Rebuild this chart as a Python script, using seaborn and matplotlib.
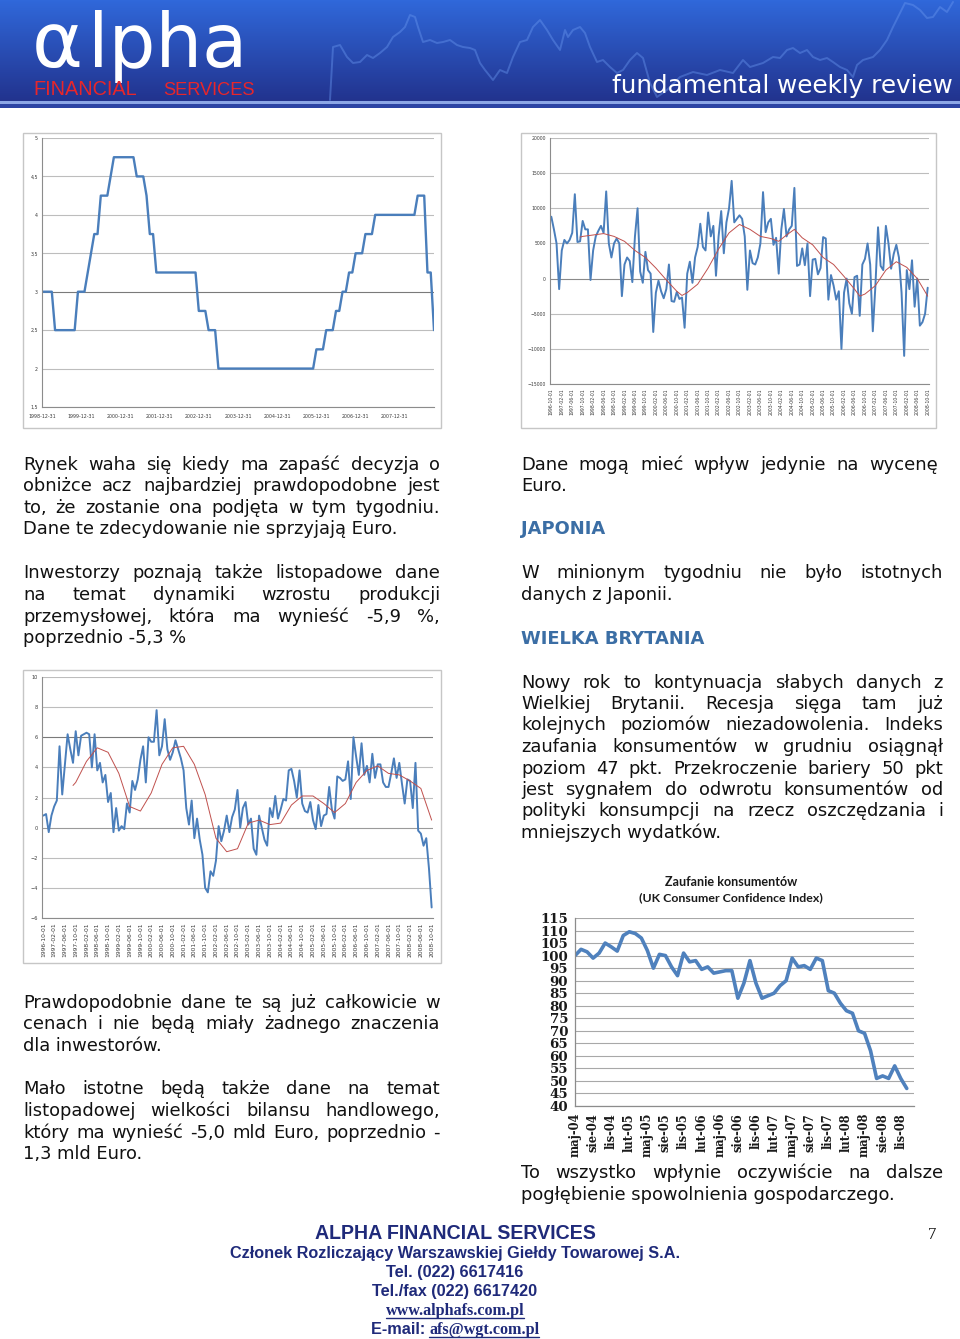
import numpy as np
import pandas as pd
import matplotlib
matplotlib.use("Agg")
import matplotlib.pyplot as plt
import seaborn as sns
from matplotlib.patches import Rectangle
from matplotlib.lines import Line2D
from matplotlib.transforms import Affine2D

# ------------------------------------------------------------------ data
# Chart 1: ECB rate, monthly from 1998-12 to 2008-12
ecb_rate = (
    [3.0]
    + [3.0, 3.0, 3.0, 2.5, 2.5, 2.5, 2.5, 2.5, 2.5, 2.5, 3.0, 3.0]            # 1999
    + [3.0, 3.25, 3.5, 3.75, 3.75, 4.25, 4.25, 4.25, 4.5, 4.75, 4.75, 4.75]   # 2000
    + [4.75, 4.75, 4.75, 4.75, 4.5, 4.5, 4.5, 4.25, 3.75, 3.75, 3.25, 3.25]   # 2001
    + [3.25, 3.25, 3.25, 3.25, 3.25, 3.25, 3.25, 3.25, 3.25, 3.25, 3.25, 2.75]  # 2002
    + [2.75, 2.75, 2.5, 2.5, 2.5, 2.0, 2.0, 2.0, 2.0, 2.0, 2.0, 2.0]          # 2003
    + [2.0, 2.0, 2.0, 2.0, 2.0, 2.0, 2.0, 2.0, 2.0, 2.0, 2.0, 2.0]            # 2004
    + [2.0, 2.0, 2.0, 2.0, 2.0, 2.0, 2.0, 2.0, 2.0, 2.0, 2.0, 2.25]           # 2005
    + [2.25, 2.25, 2.5, 2.5, 2.5, 2.75, 2.75, 3.0, 3.0, 3.25, 3.25, 3.5]      # 2006
    + [3.5, 3.5, 3.75, 3.75, 3.75, 4.0, 4.0, 4.0, 4.0, 4.0, 4.0, 4.0]         # 2007
    + [4.0, 4.0, 4.0, 4.0, 4.0, 4.0, 4.25, 4.25, 4.25, 3.25, 3.25, 2.5]       # 2008
)
ecb_xlabels = ["1998-12-31", "1999-12-31", "2000-12-31", "2001-12-31", "2002-12-31",
               "2003-12-31", "2004-12-31", "2005-12-31", "2006-12-31", "2007-12-31"]
ecb_yticks = [1.5, 2.0, 2.5, 3.0, 3.5, 4.0, 4.5, 5.0]

# Charts 2 and 3: monthly 1996-10 .. 2008-10
month_labels = ["1996-10-01", "1997-02-01", "1997-06-01", "1997-10-01", "1998-02-01",
                "1998-06-01", "1998-10-01", "1999-02-01", "1999-06-01", "1999-10-01",
                "2000-02-01", "2000-06-01", "2000-10-01", "2001-02-01", "2001-06-01",
                "2001-10-01", "2002-02-01", "2002-06-01", "2002-10-01", "2003-02-01",
                "2003-06-01", "2003-10-01", "2004-02-01", "2004-06-01", "2004-10-01",
                "2005-02-01", "2005-06-01", "2005-10-01", "2006-02-01", "2006-06-01",
                "2006-10-01", "2007-02-01", "2007-06-01", "2007-10-01", "2008-02-01",
                "2008-06-01", "2008-10-01"]

trade_vals = [8800, 7000, 5000, -1500, 4000, 5500, 5000, 5500, 6500, 12000,
              5200, 5300, 8200, 7000, 7000, -200, 4000, 6000, 6800, 7500,
              6500, 12400, 5000, 3000, 5000, 5700, 5000, -2500, 2000, 3000,
              2500, -500, 6000, 10000, 1000, -600, 3800, 1200, 700, -7600,
              -2000, -300, -1800, -2800, -1500, 2000, -3200, -3300, -1900, -2900,
              -2700, -7000, 700, 2400, -600,
              3000, 4500, 7800, 4500, 4000, 9400, 6000, 7500, 400, 6000,
              9600, 3600, 8000, 10000, 13900, 8000, 8500, 9000, 8500, 6000,
              -1600, 4000, 2200, 2000, 3000, 5000, 12300, 6600, 8000, 8500,
              4800, 5800, 700, 7000, 9900, 6000, 7000, 7500, 12900, 1800,
              2000, 4300, 1900, 5000, -2500, 2700, 2800, 600, 1500, 5900,
              5700, -3000, 500, -1000, -3000, -1800, -10000, -2000, 0, -3500,
              -5000, 200, 400, -5300, 2000, 2800, 5000, 2000, -7500, -1000,
              7300, 1800, 1200, 7500, 5000, 1400, 3500, 4800, 3000, -2000,
              -11000, 1200, -1500, 2600, -4000, 0, -6700, -6200, -5000, -1300]
trade_ma_idx = [11, 12, 16, 20, 24, 28, 32, 36, 40, 44, 48, 50, 52, 56, 60, 64, 68, 72,
                76, 80, 84, 87, 90, 93, 96, 100, 104, 108, 112, 116, 118, 120, 124,
                128, 132, 136, 140, 144]
trade_ma_val = [5900, 6000, 6200, 6400, 6000, 5300, 4000, 3000, 1500, -200, -1800, -2400,
                -2000, -800, 1500, 4200, 6500, 7700, 7000, 6000, 5700, 5300, 6200, 7000,
                5800, 4800, 3000, 2000, 300, -1500, -2500, -2200, -1000, 1200, 2400, 1600,
                0, -2500]

prod_vals = [0.8, 0.9, -0.3, 0.8, 1.4, 1.8, 5.4, 2.2, 4.2, 6.2,
             5.2, 4.3, 6.4, 4.8, 6.1, 6.2, 6.3, 6.2, 4.0, 6.2,
             3.8, 4.3, 3.0, 3.5, 1.7, 2.3, -0.3, 1.3, -0.2, 0.1,
             -0.1, 1.6, 1.0, 3.1, 2.5, 3.2, 4.5, 5.4, 3.0, 6.0,
             5.7, 5.7, 7.8, 4.8, 5.4, 7.2, 5.2, 4.5, 5.0, 5.8,
             5.2, 4.6, 3.8, 1.3, 0.2, 1.8, -0.7, 0.6, -0.8, -1.8,
             -4.0, -4.3, -2.9, -3.2, -2.2, 0.1, -0.9, -0.2, 0.8, -0.3,
             0.7, 1.2, 2.5, 0.0, 1.3, 1.7, 0.2, 0.6, -1.4, -1.8,
             0.8, 0.0, -0.8, -1.2, 1.3, 0.7, 2.1, 0.6, 1.2, 1.9,
             1.8, 3.8, 3.9, 3.1, 2.0, 3.8, 1.6, 1.1, 1.0, 1.7,
             0.5, -0.1, 1.5, 0.1, 0.8, 0.9, 2.7, 1.2, 0.6, 3.4,
             3.3, 3.1, 3.2, 4.4, 1.9, 6.0, 4.7, 3.5, 5.6, 3.5,
             4.1, 3.0, 4.9, 3.3, 4.2, 4.2, 3.0, 2.7, 2.7, 3.6,
             4.6, 3.3, 4.3, 2.9, 1.6, 3.2, 3.1, 1.3, 4.3, -0.2,
             -0.4, -1.2, -0.7, -2.7, -5.3]
prod_ma_idx = [11, 12, 16, 20, 24, 28, 32, 36, 40, 44, 48, 52, 56, 60, 64, 68, 72, 76,
               80, 84, 88, 92, 96, 100, 104, 108, 112, 116, 120, 124, 128, 132, 136, 140, 144]
prod_ma_val = [2.8, 3.0, 4.4, 5.3, 5.0, 3.6, 1.4, 1.1, 2.3, 4.2, 5.3, 5.4, 4.2, 2.2, -0.7,
               -1.6, -1.4, 0.3, 0.5, 0.2, 0.3, 1.5, 2.1, 2.1, 1.6, 1.0, 1.6, 3.0, 3.8,
               4.1, 3.6, 3.5, 3.1, 2.6, 0.5]

# Chart 4: UK consumer confidence, monthly maj-04 .. gru-08
cc_vals = [100, 102.5, 101.5, 99, 101, 105, 103.5, 101.8, 108, 109.5,
           108.8, 107, 102, 95, 100.5, 100, 95.5, 92, 101, 97.5,
           98, 94.5, 95.5, 93, 93.5, 94, 94, 83, 89, 98,
           89, 83, 84, 85, 88, 90, 99, 95.5, 96, 94.5,
           99, 98, 86, 85, 81, 78, 77, 70, 69, 62,
           51, 52, 51, 56, 51, 47]
cc_labels = ["maj-04", "sie-04", "lis-04", "lut-05", "maj-05", "sie-05", "lis-05",
             "lut-06", "maj-06", "sie-06", "lis-06", "lut-07", "maj-07", "sie-07",
             "lis-07", "lut-08", "maj-08", "sie-08", "lis-08"]
cc_yticks = [40, 45, 50, 55, 60, 65, 70, 75, 80, 85, 90, 95, 100, 105, 110, 115]

# decorative price line in the header banner (time step, level)
banner_t = [330, 333, 340, 347, 353, 360, 367, 373, 380, 387, 393, 400, 405, 410, 415,
            418, 423, 430, 437, 443, 450, 457, 463, 470, 475, 480, 485, 493, 500, 507,
            513, 520, 527, 533, 540, 547, 553, 560, 565, 568, 573, 580, 585, 590, 597,
            603, 610, 617, 623, 630, 637, 643, 650, 657, 667, 680, 693, 707, 720, 733,
            743, 750, 763, 773, 780, 787, 793, 800, 807, 813, 820, 827, 833, 840, 847,
            853, 857, 863, 873, 880, 887, 893, 900, 905, 913, 920, 927, 933, 940, 947, 953]
banner_v = [5, 58, 60, 48, 42, 43, 50, 47, 52, 58, 68, 73, 78, 90, 88,
            78, 63, 65, 62, 63, 65, 60, 58, 57, 55, 42, 35, 25, 35, 32,
            48, 63, 65, 78, 85, 75, 65, 55, 75, 68, 75, 78, 72, 58, 43,
            45, 38, 32, 35, 45, 52, 47, 22, 8, 15, 28, 33, 30, 35, 32,
            45, 38, 42, 48, 47, 55, 57, 52, 55, 48, 45, 47, 43, 38, 35,
            28, 40, 45, 48, 55, 65, 78, 92, 102, 100, 95, 87, 88, 98, 93, 103]

# ------------------------------------------------------------------ setup
W, H = 960, 1339
sns.set_theme(style="white")
plt.rcParams['font.family'] = ['DejaVu Sans']
fig = plt.figure(figsize=(W / 100, H / 100), dpi=100)
fig.patch.set_facecolor('white')
PX = Affine2D().scale(1 / W, -1 / H).translate(0, 1) + fig.transFigure
renderer = fig.canvas.get_renderer()


def add_ax(l, t, r, b):
    return fig.add_axes([l / W, 1 - b / H, (r - l) / W, (b - t) / H])


def tw(s, size, **kw):
    t = fig.text(0, 0, s, fontsize=size, **kw)
    w = t.get_window_extent(renderer).width
    t.remove()
    return w


def fit(s, target, **kw):
    return 10 * target / tw(s, 10, **kw)


def put(x, y, s, **kw):
    kw.setdefault('va', 'baseline')
    return fig.text(x, y, s, transform=PX, **kw)


def para(lines, x0, x1, y0, step, size, **kw):
    for j, line in enumerate(lines):
        y = y0 + j * step
        words = line.split(' ')
        if j == len(lines) - 1 or len(words) == 1:
            put(x0, y, line, fontsize=size, **kw)
            continue
        ws = [tw(w, size, **kw) for w in words]
        gap = (x1 - x0 - sum(ws)) / (len(words) - 1)
        x = x0
        for w, wd in zip(words, ws):
            put(x, y, w, fontsize=size, **kw)
            x += wd + gap


def underline(x0, x1, y, color):
    fig.add_artist(Line2D([x0, x1], [y, y], transform=PX, color=color, lw=1))


# ------------------------------------------------------------------ banner
BH = 108
bax = fig.add_axes([0, 1 - BH / H, 1, BH / H])
bax.set_axis_off()
top = np.array([0x30, 0x68, 0xda]) / 255
bot = np.array([0x22, 0x33, 0x8e]) / 255
rows = []
for r in range(BH):
    if r < 101:
        f = r / 100
        rows.append(top * (1 - f) + bot * f)
    elif r < 104:
        rows.append(np.array([0x8c, 0xa6, 0xe6]) / 255)
    else:
        rows.append(np.array([0x2c, 0x44, 0xa4]) / 255)
grad = np.array(rows)[:, None, :]
bax.imshow(grad, aspect='auto', extent=[0, 960, BH, 0])
bax.set_xlim(0, 960)
bax.set_ylim(BH, 0)

lax = add_ax(0, 0, 960, 105)
lax.set_axis_off()
lax.patch.set_alpha(0)
sns.lineplot(x=banner_t, y=banner_v, ax=lax, color='#6a98f0', lw=1.4, alpha=0.42,
             sort=False)
lax.set_xlim(0, 960)
lax.set_ylim(0, 105)

s_lpha = fit('lpha', 160, family='DejaVu Sans')
put(88, 67, 'lpha', fontsize=s_lpha, color='white', family='DejaVu Sans')
s_alpha = fit('α', 56, family='DejaVu Sans')
put(32, 67, 'α', fontsize=min(s_alpha, s_lpha * 1.05), color='white', family='DejaVu Sans')
s_fin = fit('FINANCIAL', 104, family='Liberation Sans')
put(33, 95, 'FINANCIAL', fontsize=s_fin, color='#e8262a', family='Liberation Sans')
s_ser = fit('SERVICES', 92, family='Liberation Sans')
put(163, 95, 'SERVICES', fontsize=s_ser, color='#e8262a', family='Liberation Sans')
s_fwr = fit('fundamental weekly review', 340, family='DejaVu Sans')
put(612, 93, 'fundamental weekly review', fontsize=s_fwr, color='white', family='DejaVu Sans')

# ------------------------------------------------------------------ chart helpers
FRAME = '#c6c6c6'
GRID = '#bdbdbd'
SPINE = '#8c8c8c'
BLUE = '#4a7ebb'
RED = '#c0504d'


def frame(x0, y0, x1, y1):
    fig.add_artist(Rectangle((x0, y0), x1 - x0, y1 - y0, transform=PX,
                             fill=False, ec=FRAME, lw=1))


def small_style(ax, fs):
    for s in ['top', 'right']:
        ax.spines[s].set_visible(False)
    for s in ['left', 'bottom']:
        ax.spines[s].set_color(SPINE)
        ax.spines[s].set_linewidth(0.8)
    ax.grid(False)
    ax.yaxis.grid(True, color=GRID, lw=0.8)
    ax.set_axisbelow(True)
    ax.tick_params(labelsize=fs, colors='#3a3a3a', length=0, pad=3)
    ax.set_xlabel('')
    ax.set_ylabel('')


# ------------------------------------------------------------------ chart 1
frame(23, 133, 441, 428)
ax1 = add_ax(42, 138, 434, 407)
sns.lineplot(x=np.arange(len(ecb_rate)), y=ecb_rate, ax=ax1, color=BLUE, lw=1.7)
ax1.set_xlim(0, len(ecb_rate) - 1)
ax1.set_ylim(1.5, 5.0)
small_style(ax1, 3.4)
ax1.set_yticks(ecb_yticks)
ax1.set_yticklabels([f"{v:g}".replace('.', ',') for v in ecb_yticks])
ax1.set_xticks(np.arange(0, 12 * len(ecb_xlabels), 12))
ax1.set_xticklabels(ecb_xlabels)
ax1.tick_params(axis='x', length=2, color=SPINE, direction='out')
ax1.yaxis.get_major_ticks()[3].gridline.set_color('#7a7a7a')

# ------------------------------------------------------------------ chart 2
frame(521, 133, 936, 428)
ax2 = add_ax(550, 138, 929, 384)
n2 = len(trade_vals)
sns.lineplot(x=np.arange(n2), y=trade_vals, ax=ax2, color=BLUE, lw=1.4)
sns.lineplot(x=trade_ma_idx, y=trade_ma_val, ax=ax2, color=RED, lw=0.7)
ax2.set_xlim(-0.5, n2 - 0.5)
ax2.set_ylim(-15000, 20000)
small_style(ax2, 3.3)
ax2.set_yticks(np.arange(-15000, 20001, 5000))
ax2.set_xticks(np.arange(0, n2, 4))
ax2.set_xticklabels(month_labels, rotation=90, va='top', ha='center')
ax2.yaxis.get_major_ticks()[3].gridline.set_color('#8a8a8a')

# ------------------------------------------------------------------ chart 3
frame(23, 670, 441, 963)
ax3 = add_ax(42, 677, 433, 918)
n3 = len(prod_vals)
sns.lineplot(x=np.arange(n3), y=prod_vals, ax=ax3, color=BLUE, lw=1.4)
sns.lineplot(x=prod_ma_idx, y=prod_ma_val, ax=ax3, color=RED, lw=0.7)
ax3.set_xlim(-0.5, n3 - 0.5)
ax3.set_ylim(-6, 10)
small_style(ax3, 3.6)
ax3.set_yticks(np.arange(-6, 11, 2))
ax3.set_xticks(np.arange(0, n3, 4))
ax3.set_xticklabels(month_labels, rotation=90, va='top', ha='center', fontsize=4.3)
ax3.yaxis.get_major_ticks()[6].gridline.set_color('#7a7a7a')
ax3.yaxis.get_major_ticks()[3].gridline.set_color('#9a9a9a')

# ------------------------------------------------------------------ chart 4
ax4 = add_ax(575, 918, 914, 1106)
sns.lineplot(x=np.arange(len(cc_vals)), y=cc_vals, ax=ax4, color='#4f81bd', lw=2.6)
ax4.set_xlim(0, 56.2)
ax4.set_ylim(40, 115)
for s in ['top', 'right']:
    ax4.spines[s].set_visible(False)
for s in ['left', 'bottom']:
    ax4.spines[s].set_color('#8c8c8c')
    ax4.spines[s].set_linewidth(0.9)
ax4.grid(False)
ax4.yaxis.grid(True, color='#a8a8a8', lw=0.8)
ax4.set_axisbelow(True)
ax4.set_xlabel('')
ax4.set_ylabel('')
ax4.set_yticks(cc_yticks)
ax4.set_yticklabels([str(v) for v in cc_yticks], family='DejaVu Serif',
                    fontweight='bold', fontsize=9.6, color='#1a1a1a')
ax4.set_xticks(np.arange(0, 3 * len(cc_labels), 3))
ax4.set_xticklabels(cc_labels, rotation=90, family='DejaVu Serif', fontweight='bold',
                    fontsize=8.3, color='#1a1a1a', va='top', ha='center')
ax4.tick_params(axis='both', length=3, color='#8c8c8c', direction='out', pad=2)

t_font = ['Lato', 'DejaVu Sans']
s_t1 = fit('Zaufanie konsumentów', 133, family=t_font, fontweight='bold')
put(731, 886, 'Zaufanie konsumentów', fontsize=s_t1, family=t_font,
    fontweight='bold', ha='center', color='#1a1a1a')
s_t2 = fit('(UK Consumer Confidence Index)', 185, family=t_font, fontweight='bold')
put(731, 901, '(UK Consumer Confidence Index)', fontsize=s_t2, family=t_font,
    fontweight='bold', ha='center', color='#1a1a1a')

# ------------------------------------------------------------------ body text
BODY = dict(family='DejaVu Sans', color='#111111')
fs = fit('Dane te zdecydowanie nie sprzyjają Euro.', 374, **BODY)
STEP = 21.6

para(["Rynek waha się kiedy ma zapaść decyzja o",
      "obniżce acz najbardziej prawdopodobne jest",
      "to, że zostanie ona podjęta w tym tygodniu.",
      "Dane te zdecydowanie nie sprzyjają Euro."], 23, 440, 469.5, STEP, fs, **BODY)
para(["Inwestorzy poznają także listopadowe dane",
      "na temat dynamiki wzrostu produkcji",
      "przemysłowej, która ma wynieść -5,9 %,",
      "poprzednio -5,3 %"], 23, 440, 578.5, STEP, fs, **BODY)
para(["Prawdopodobnie dane te są już całkowicie w",
      "cenach i nie będą miały żadnego znaczenia",
      "dla inwestorów."], 23, 440, 1007.5, STEP, fs, **BODY)
para(["Mało istotne będą także dane na temat",
      "listopadowej wielkości bilansu handlowego,",
      "który ma wynieść -5,0 mld Euro, poprzednio -",
      "1,3 mld Euro."], 23, 440, 1094.5, STEP, fs, **BODY)

para(["Dane mogą mieć wpływ jedynie na wycenę",
      "Euro."], 521, 938, 469.5, STEP, fs, **BODY)
put(521, 534.5, "JAPONIA", fontsize=fs, family='DejaVu Sans', fontweight='bold',
    color='#3b6ea5')
para(["W minionym tygodniu nie było istotnych",
      "danych z Japonii."], 521, 943, 578.5, STEP, fs, **BODY)
put(521, 643.5, "WIELKA BRYTANIA", fontsize=fs, family='DejaVu Sans', fontweight='bold',
    color='#3b6ea5')
para(["Nowy rok to kontynuacja słabych danych z",
      "Wielkiej Brytanii. Recesja sięga tam już",
      "kolejnych poziomów niezadowolenia. Indeks",
      "zaufania konsumentów w grudniu osiągnął",
      "poziom 47 pkt. Przekroczenie bariery 50 pkt",
      "jest sygnałem do odwrotu konsumentów od",
      "polityki konsumpcji na rzecz oszczędzania i",
      "mniejszych wydatków."], 521, 943, 687.5, 21.5, fs, **BODY)
para(["To wszystko wpłynie oczywiście na dalsze",
      "pogłębienie spowolnienia gospodarczego."], 521, 943, 1178.5, STEP, fs, **BODY)

# ------------------------------------------------------------------ footer
NAVY = '#1f2a7a'
SANSB = dict(family='Liberation Sans', fontweight='bold', color=NAVY)
SERIFB = dict(family='Liberation Serif', fontweight='bold', color=NAVY)
CX = 455

s = fit('ALPHA FINANCIAL SERVICES', 280, **SANSB)
put(CX, 1239, 'ALPHA FINANCIAL SERVICES', fontsize=s, ha='center', **SANSB)
s2 = fit('Członek Rozliczający Warszawskiej Giełdy Towarowej S.A.', 449, **SANSB)
put(CX, 1258, 'Członek Rozliczający Warszawskiej Giełdy Towarowej S.A.',
    fontsize=s2, ha='center', **SANSB)
put(CX, 1277, 'Tel. (022) 6617416', fontsize=s2, ha='center', **SANSB)
put(CX, 1296, 'Tel./fax (022) 6617420', fontsize=s2, ha='center', **SANSB)
s3 = fit('www.alphafs.com.pl', 139, **SERIFB)
put(CX, 1315, 'www.alphafs.com.pl', fontsize=s3, ha='center', **SERIFB)
wu = tw('www.alphafs.com.pl', s3, **SERIFB)
underline(CX - wu / 2, CX + wu / 2, 1317.5, NAVY)
w_a = tw('E-mail: ', s2, **SANSB)
w_b = tw('afs@wgt.com.pl', s3, **SERIFB)
x0 = CX - (w_a + w_b) / 2
put(x0, 1334, 'E-mail: ', fontsize=s2, **SANSB)
put(x0 + w_a, 1334, 'afs@wgt.com.pl', fontsize=s3, **SERIFB)
underline(x0 + w_a, x0 + w_a + w_b, 1336.5, NAVY)

put(932, 1239, '7', fontsize=12, ha='center', family='Liberation Serif', color='#111111')

fig.savefig('out.png', dpi=100, facecolor='white')
